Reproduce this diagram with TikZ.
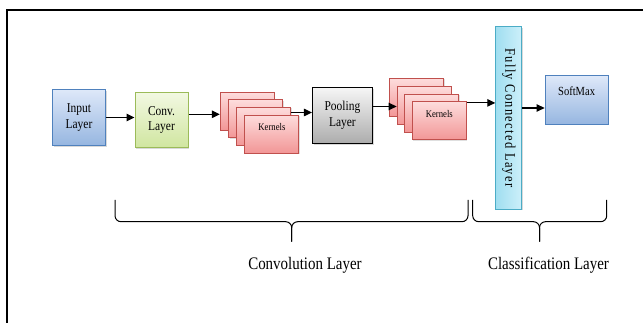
\documentclass[tikz,border=0pt]{standalone}
\usepackage{fontspec}
\setmainfont{Liberation Serif}[FakeStretch=0.85]
\usetikzlibrary{arrows.meta,positioning,calc,shadows}
\definecolor{bluetop}{RGB}{222,232,249}
\definecolor{bluebottom}{RGB}{150,182,224}
\definecolor{blueborder}{RGB}{79,129,189}
\definecolor{greentop}{RGB}{242,248,226}
\definecolor{greenbottom}{RGB}{208,230,160}
\definecolor{greenborder}{RGB}{155,187,89}
\definecolor{graytop}{RGB}{246,246,246}
\definecolor{graybottom}{RGB}{172,172,172}
\definecolor{pinktop}{RGB}{253,220,220}
\definecolor{pinkbottom}{RGB}{242,150,150}
\definecolor{pinkborder}{RGB}{192,80,77}
\definecolor{cyanleft}{RGB}{160,222,240}
\definecolor{cyanright}{RGB}{205,240,250}
\definecolor{cyanborder}{RGB}{75,172,198}

\begin{document}
\begin{tikzpicture}[x=1pt,y=-1pt,
    layerbox/.style={draw,line width=1pt,align=center,
        drop shadow={shadow xshift=1.2pt,shadow yshift=-1.2pt,opacity=.3},
        font=\fontsize{13.5}{15.5}\selectfont},
    kernelbox/.style={draw=pinkborder,line width=1pt,top color=pinktop,bottom color=pinkbottom,
        minimum width=54pt,minimum height=38pt,
        drop shadow={shadow xshift=1pt,shadow yshift=-1pt,opacity=.25}},
    flow/.style={-{Triangle[length=8pt,width=7.5pt]},line width=1.2pt},
    curly/.style={line width=1pt,rounded corners=6pt}]
    \useasboundingbox (0,0) rectangle (643,323);
    % Frame
    \draw[line width=1.5pt] (643,10) -- (7,10) -- (7,323);

    % Layers
    \node[layerbox,draw=blueborder,top color=bluetop,bottom color=bluebottom,
        minimum width=53pt,minimum height=56pt] (inp) at (79,117.5) {Input\\Layer};
    \node[layerbox,draw=greenborder,top color=greentop,bottom color=greenbottom,
        minimum width=53pt,minimum height=55pt] (conv) at (161.5,120) {Conv.\\Layer};
    \node[layerbox,draw=black,top color=graytop,bottom color=graybottom,
        minimum width=60pt,minimum height=56pt] (pool) at (342.4,115.5) {Pooling\\Layer};
    \node[layerbox,draw=cyanborder,left color=cyanleft,right color=cyanright,
        minimum width=26pt,minimum height=182.6pt,
        font=\fontsize{14.7}{17}\selectfont\addfontfeatures{LetterSpace=9}]
        (fc) at (508.8,118) {\rotatebox{-90}{Fully Connected Layer}};
    \node[layerbox,draw=blueborder,top color=bluetop,bottom color=bluebottom,
        minimum width=63pt,minimum height=48.6pt] (smax) at (576.6,100) {};
    \node[font=\fontsize{12.4}{14}\selectfont] (smaxtext) at ([yshift=9pt]smax.center) {SoftMax};

    % Kernel stacks
    \foreach \i in {0,...,3} {
        \node[kernelbox] (kA\i) at ({247.3+8.2*\i},{111.3+7.6*\i}) {};
        \node[kernelbox] (kB\i) at ({416.5+7.6*\i},{97.5+7.8*\i}) {};
    }
    \node[font=\fontsize{10.2}{12}\selectfont] (kAtext) at ([yshift=7pt]kA3.center) {Kernels};
    \node[font=\fontsize{10.2}{12}\selectfont] (kBtext) at ([yshift=7pt]kB3.center) {Kernels};

    % Arrows
    \draw[flow] (inp.east) -- (inp.east -| conv.west);
    \draw[flow] ([yshift=-3pt]kA0.west -| conv.east) -- ([yshift=-3pt]kA0.west);
    \draw[flow] ([yshift=3pt]pool.west -| kA2.east) -- ([yshift=3pt]pool.west);
    \draw[flow] ([yshift=9pt]pool.east) -- ([yshift=9pt]pool.east -| kB1.west);
    \draw[flow] ([yshift=-1.5pt]kB3.north east) -- ([yshift=-1.5pt]kB3.north east -| fc.west);
    \draw[flow] ([yshift=-8pt]smax.west -| fc.east) -- ([yshift=-8pt]smax.west);

    % Braces
    \draw[curly] (115,200) -- (115,221.7) -- (291.7,221.7) -- (291.7,241.7);
    \draw[curly] (468,200) -- (468,221.7) -- (291.7,221.7) -- (291.7,241.7);
    \draw[curly] (472.7,200) -- (472.7,221.7) -- (539.5,221.7) -- (539.5,241.7);
    \draw[curly] (606.7,200) -- (606.7,221.7) -- (539.5,221.7) -- (539.5,241.7);
    \node[font=\fontsize{17.6}{20}\selectfont] (convlabel) at (305,265) {Convolution Layer};
    \node[font=\fontsize{17.6}{20}\selectfont] (classlabel) at (548.5,265) {Classification Layer};
\end{tikzpicture}
\end{document}
